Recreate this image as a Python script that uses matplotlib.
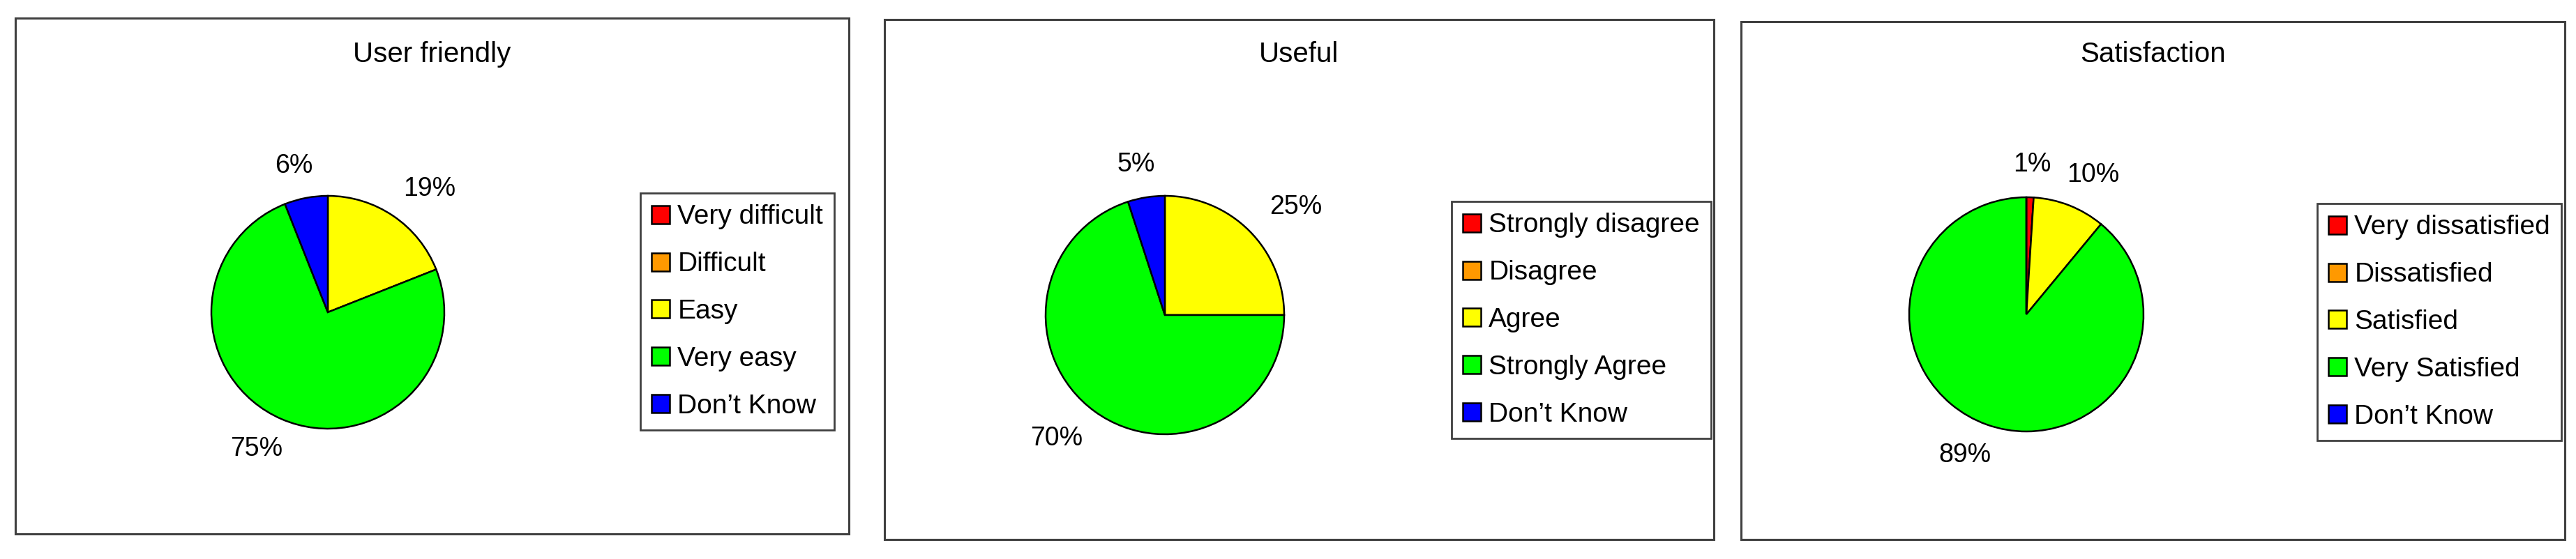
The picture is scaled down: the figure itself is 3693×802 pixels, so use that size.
import numpy as np
import matplotlib
matplotlib.use('Agg')
import matplotlib.pyplot as plt
from matplotlib.patches import Rectangle

plt.rcParams['font.family'] = ['Liberation Sans', 'DejaVu Sans']

# data (percent)
titles = ['User friendly', 'Useful', 'Satisfaction']

uf_labels = ['Very difficult', 'Difficult', 'Easy', 'Very easy', 'Don\u2019t Know']
uf_values = [0, 0, 19, 75, 6]

useful_labels = ['Strongly disagree', 'Disagree', 'Agree', 'Strongly Agree', 'Don\u2019t Know']
useful_values = [0, 0, 25, 70, 5]

sat_labels = ['Very dissatisfied', 'Dissatisfied', 'Satisfied', 'Very Satisfied', 'Don\u2019t Know']
sat_values = [1, 0, 10, 89, 0]

colors = ['#FF0000', '#FF9900', '#FFFF00', '#00FF00', '#0000FF']

W, H = 3693, 802
fig = plt.figure(figsize=(W / 100, H / 100), dpi=100)

# layout in pixels: panel box, pie centre + radius, legend top-left
panels = [
    dict(box=(22, 26, 1217, 766), pie=(470, 448, 167), leg=(918, 277)),
    dict(box=(1268, 28, 2457, 774), pie=(1670, 452, 171), leg=(2081, 289)),
    dict(box=(2496, 31, 3677, 774), pie=(2905, 451, 168), leg=(3322, 292)),
]

data = [(uf_labels, uf_values), (useful_labels, useful_values), (sat_labels, sat_values)]


def pct_fmt(p):
    return f'{p:.0f}%' if p > 0.5 else ''


for title, (labels, values), p in zip(titles, data, panels):
    x0, y0, x1, y1 = p['box']
    fig.patches.append(Rectangle((x0 / W, 1 - y1 / H), (x1 - x0) / W, (y1 - y0) / H,
                                 transform=fig.transFigure, fill=False,
                                 edgecolor='#404040', linewidth=2.2))
    fig.text((x0 + x1) / 2 / W, 1 - 89 / H, title, ha='center', va='baseline', fontsize=29)

    cx, cy, r = p['pie']
    ax = fig.add_axes([(cx - 1.5 * r) / W, 1 - (cy + 1.5 * r) / H, 3 * r / W, 3 * r / H])
    wedges, _, autotexts = ax.pie(values, colors=colors, startangle=90, counterclock=False,
                                  autopct=pct_fmt,
                                  wedgeprops=dict(edgecolor='black', linewidth=1.8),
                                  textprops=dict(fontsize=27))
    # labels sit outside the pie, pushed out more sideways than up/down
    for w, t in zip(wedges, autotexts):
        a = np.deg2rad((w.theta1 + w.theta2) / 2)
        t.set_position((1.55 * np.cos(a), 1.28 * np.sin(a)))
    ax.set_xlim(-1.5, 1.5)
    ax.set_ylim(-1.5, 1.5)
    ax.set_aspect('equal')

    lx, ly = p['leg']
    leg = ax.legend(wedges, labels, loc='upper left', bbox_to_anchor=(lx / W, 1 - ly / H),
                    bbox_transform=fig.transFigure, borderaxespad=0, fancybox=False,
                    edgecolor='#404040', framealpha=1, fontsize=28,
                    handlelength=0.65, handleheight=0.65, handletextpad=0.3,
                    labelspacing=0.82, borderpad=0.42)
    leg.get_frame().set_linewidth(2)

fig.savefig('out.png', dpi=100, facecolor='white')
